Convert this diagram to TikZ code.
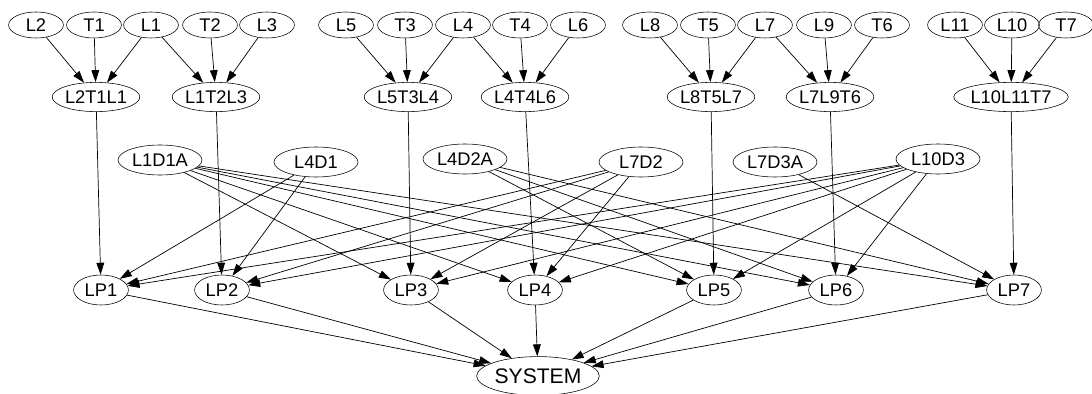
\documentclass[tikz,border=0pt]{standalone}
\usepackage{fontspec}
\setmainfont{Liberation Sans}
\usetikzlibrary{shapes.geometric,arrows.meta}

\begin{document}
\begin{tikzpicture}[x=0.025cm,y=-0.025cm,
    leaf/.style={ellipse,draw,inner sep=0pt,minimum width=1.37cm,minimum height=0.65cm,font=\fontsize{13}{15}\selectfont},
    group/.style={leaf,minimum width=2.08cm,minimum height=0.73cm},
    defect/.style={group,minimum width=2.1cm,minimum height=0.75cm},
    lp/.style={leaf,minimum height=0.75cm},
    sys/.style={ellipse,draw,inner sep=0pt,minimum width=2.68cm,minimum height=0.97cm,font=\fontsize{15}{17}\selectfont},
    arr/.style={-{Triangle[length=8.5pt,width=5.5pt]},line width=0.5pt}]

    \useasboundingbox (0,0) rectangle (1092,394);

    % top row
    \foreach \n/\x in {L2/36,T1/94,L1/151,T2/210,L3/267,L5/346,T3/405,L4/463,T4/520,L6/578,
                       L8/650,T5/708,L7/765,L9/824,T6/882,L11/955,L10/1012,T7/1066}
        \node [leaf] (\n) at (\x,25) {\n};

    % groups
    \foreach \n/\x in {L2T1L1/96,L1T2L3/216,L5T3L4/408,L4T4L6/525,L8T5L7/711,L7L9T6/830,L10L11T7/1011}
        \node [group] (\n) at (\x,97) {\n};

    % defects
    \node [defect] (L1D1A) at (160,160) {L1D1A};
    \node [defect] (L4D1)  at (316,162) {L4D1};
    \node [defect] (L4D2A) at (465,159) {L4D2A};
    \node [defect] (L7D2)  at (641,162) {L7D2};
    \node [defect] (L7D3A) at (775,162) {L7D3A};
    \node [defect] (L10D3) at (938,159) {L10D3};

    \foreach \n/\x in {LP1/101,LP2/222,LP3/411,LP4/535,LP5/714,LP6/836,LP7/1014}
        \node [lp] (\n) at (\x,290) {\n};

    \node [sys] (SYSTEM) at (538,376) {SYSTEM};

    % top -> groups
    \foreach \a/\b in {L2/L2T1L1,T1/L2T1L1,L1/L2T1L1,L1/L1T2L3,T2/L1T2L3,L3/L1T2L3,
                       L5/L5T3L4,T3/L5T3L4,L4/L5T3L4,L4/L4T4L6,T4/L4T4L6,L6/L4T4L6,
                       L8/L8T5L7,T5/L8T5L7,L7/L8T5L7,L7/L7L9T6,L9/L7L9T6,T6/L7L9T6,
                       L11/L10L11T7,L10/L10L11T7,T7/L10L11T7}
        \draw [arr] (\a) -- (\b);

    % groups -> LP
    \foreach \a/\b in {L2T1L1/LP1,L1T2L3/LP2,L5T3L4/LP3,L4T4L6/LP4,L8T5L7/LP5,L7L9T6/LP6,L10L11T7/LP7}
        \draw [arr] (\a) -- (\b);

    % defects -> LP
    \foreach \a/\b in {L1D1A/LP3,L1D1A/LP4,L1D1A/LP5,L1D1A/LP6,L1D1A/LP7,
                       L4D1/LP1,L4D1/LP2,
                       L4D2A/LP5,L4D2A/LP6,L4D2A/LP7,
                       L7D2/LP1,L7D2/LP2,L7D2/LP3,L7D2/LP4,
                       L7D3A/LP7,
                       L10D3/LP1,L10D3/LP2,L10D3/LP3,L10D3/LP4,L10D3/LP5,L10D3/LP6}
        \draw [arr] (\a) -- (\b);

    % LP -> system
    \foreach \i in {1,...,7}
        \draw [arr] (LP\i) -- (SYSTEM);

\end{tikzpicture}
\end{document}
